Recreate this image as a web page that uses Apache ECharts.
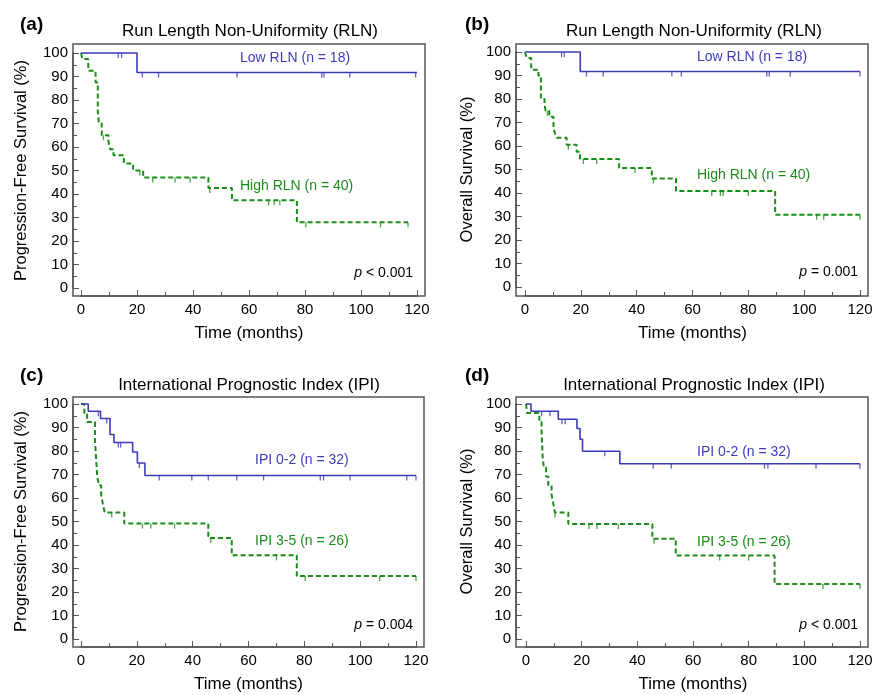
<!DOCTYPE html>
<html><head><meta charset="utf-8">
<script src="https://cdn.jsdelivr.net/npm/echarts@6/dist/echarts.min.js"></script>
<style>html,body{margin:0;padding:0;background:#fff}#c{width:875px;height:695px}</style>
</head><body><div id="c"></div>
<script>
const FONT = '"Liberation Sans", Arial, Helvetica, sans-serif';
const BLUE = '#3c3cb8';
const GREEN = '#1a8c1a';
const AXIS = '#555555';

// ---------- Panel (a): PFS by RLN ----------
const aLowTime = [0, 20, 120];
const aLowSurv = [100, 91.7, 91.7];
const aLowCensor = [13.3, 14.5, 21.9, 27.7, 55.7, 86.0, 86.8, 96.0, 119.5];
const aHighTime = [0, 0.5, 2.6, 5.2, 6.0, 6.4, 7.4, 9.8, 10.4, 11.6, 15.3, 18.6, 22.2, 45.5, 53.9, 77.1, 116.8];
const aHighSurv = [100, 97.5, 92.5, 87.5, 75.0, 70.0, 65.0, 62.5, 59.0, 56.5, 53.0, 50.0, 47.0, 42.6, 37.3, 28.0, 28.0];
const aHighCensor = [8.0, 21.0, 25.6, 33.6, 39.0, 46.0, 67.0, 69.0, 71.0, 80.3, 107.0, 116.8];

// ---------- Panel (b): OS by RLN ----------
const bLowTime = [0, 19.8, 120];
const bLowSurv = [100, 91.7, 91.7];
const bLowCensor = [13.1, 14.1, 22.0, 28.0, 52.6, 56.0, 86.6, 87.5, 95.0, 120];
const bHighTime = [0, 0.6, 2.2, 4.8, 5.7, 7.0, 7.4, 8.7, 10.2, 10.8, 11.4, 14.9, 18.5, 19.7, 33.7, 45.4, 54.1, 89.6, 120];
const bHighSurv = [100, 97.5, 92.5, 90.0, 80.0, 77.5, 75.0, 72.5, 67.5, 65.2, 63.5, 60.5, 57.6, 54.5, 50.6, 46.2, 40.9, 30.7, 30.7];
const bHighCensor = [8.0, 15.5, 20.9, 25.7, 39.4, 46.0, 66.9, 70.0, 71.0, 80.0, 104.5, 107.0, 120];

// ---------- Panel (c): PFS by IPI ----------
const cLowTime = [0, 2.6, 7.0, 10.4, 11.8, 18.5, 20.2, 22.9, 120];
const cLowSurv = [100, 96.9, 93.8, 87.0, 83.6, 79.6, 74.9, 69.6, 69.6];
const cLowCensor = [6.2, 9.2, 13.4, 14.2, 20.9, 28.0, 39.7, 45.6, 55.8, 65.4, 85.7, 86.9, 96.4, 116.7, 120];
const cHighTime = [0, 1.2, 2.2, 5.0, 5.4, 5.8, 6.4, 7.2, 7.8, 8.5, 15.5, 45.6, 54.0, 77.3, 120];
const cHighSurv = [100, 96.2, 92.3, 84.6, 76.9, 69.2, 65.4, 61.5, 57.7, 53.8, 49.1, 43.0, 35.6, 26.8, 26.8];
const cHighCensor = [11.0, 22.0, 25.0, 33.5, 46.5, 70.0, 80.3, 107.0, 120];

// ---------- Panel (d): OS by IPI ----------
const dLowTime = [0, 1.8, 11.6, 18.3, 19.4, 20.3, 33.7, 120];
const dLowSurv = [100, 96.9, 93.5, 89.6, 85.0, 79.9, 74.6, 74.6];
const dLowCensor = [5.6, 8.6, 12.9, 14.1, 28.3, 45.7, 52.2, 85.7, 86.9, 104.2, 120];
const dHighTime = [0, 0.4, 4.8, 5.6, 6.0, 6.4, 7.2, 8.0, 9.2, 9.8, 10.4, 15.2, 45.4, 53.8, 89.3, 120];
const dHighSurv = [100, 96.2, 92.3, 88.5, 76.9, 73.1, 69.2, 65.4, 61.5, 57.7, 53.8, 48.9, 42.7, 35.5, 23.4, 23.4];
const dHighCensor = [10.4, 22.6, 25.5, 33.2, 46.0, 69.6, 80.0, 106.7, 120];

// ---------- Text ----------
const panelLetters = ['(a)', '(b)', '(c)', '(d)'];
const panelTitles = ['Run Length Non-Uniformity (RLN)', 'Run Length Non-Uniformity (RLN)',
                     'International Prognostic Index (IPI)', 'International Prognostic Index (IPI)'];
const yNames = ['Progression-Free Survival (%)', 'Overall Survival (%)',
                'Progression-Free Survival (%)', 'Overall Survival (%)'];
const xName = 'Time (months)';
const lowLabels = ['Low RLN (n = 18)', 'Low RLN (n = 18)', 'IPI 0-2 (n = 32)', 'IPI 0-2 (n = 32)'];
const highLabels = ['High RLN (n = 40)', 'High RLN (n = 40)', 'IPI 3-5 (n = 26)', 'IPI 3-5 (n = 26)'];
const pTexts = ['< 0.001', '= 0.001', '= 0.004', '< 0.001'];

// ---------- Layout (pixels) ----------
const layout = [
  {left: 81, top: 53, width: 336, height: 235, fl: 73, ft: 44, fr: 425, fb: 296,
   letter: [20, 25], title: [250, 31], low: [240, 58], high: [240, 186], p: [413, 273], yGap: 43},
  {left: 525, top: 52, width: 335, height: 235, fl: 516, ft: 44, fr: 868, fb: 296,
   letter: [465, 25], title: [694, 31], low: [697, 57], high: [697, 175], p: [858, 272], yGap: 40},
  {left: 81, top: 404, width: 335, height: 235, fl: 73, ft: 397, fr: 424, fb: 647,
   letter: [20, 376], title: [249, 385], low: [255, 460], high: [255, 541], p: [413, 625], yGap: 43},
  {left: 526, top: 404, width: 334, height: 235, fl: 516, ft: 397, fr: 868, fb: 647,
   letter: [465, 376], title: [694, 385], low: [697, 452], high: [697, 542], p: [858, 625], yGap: 40}
];

const panels = [
  {lowT: aLowTime, lowS: aLowSurv, lowC: aLowCensor, highT: aHighTime, highS: aHighSurv, highC: aHighCensor},
  {lowT: bLowTime, lowS: bLowSurv, lowC: bLowCensor, highT: bHighTime, highS: bHighSurv, highC: bHighCensor},
  {lowT: cLowTime, lowS: cLowSurv, lowC: cLowCensor, highT: cHighTime, highS: cHighSurv, highC: cHighCensor},
  {lowT: dLowTime, lowS: dLowSurv, lowC: dLowCensor, highT: dHighTime, highS: dHighSurv, highC: dHighCensor}
];

function survAt(times, surv, t) {
  let v = surv[0];
  for (let i = 0; i < times.length; i++) if (times[i] <= t) v = surv[i];
  return v;
}
function zip(a, b) { return a.map((v, i) => [v, b[i]]); }

const grids = [], xAxes = [], yAxes = [], series = [], graphics = [];
const tickStyle = {color: AXIS, width: 1};

layout.forEach((L, i) => {
  const P = panels[i];
  grids.push({left: L.left, top: L.top, width: L.width, height: L.height, containLabel: false, outerBoundsMode: 'none'});
  xAxes.push({
    type: 'value', gridIndex: i, min: 0, max: 120, interval: 20,
    offset: L.fb - (L.top + L.height),
    axisLine: {show: true, onZero: false, lineStyle: {color: AXIS, width: 1.5}},
    axisTick: {show: true, inside: true, length: 6, lineStyle: tickStyle},
    minorTick: {show: true, splitNumber: 2, length: 4, lineStyle: tickStyle},
    splitLine: {show: false},
    axisLabel: {margin: 6, fontSize: 15, color: '#000', fontFamily: FONT},
    name: xName, nameLocation: 'middle', nameGap: 29,
    nameTextStyle: {fontSize: 17, color: '#000', fontFamily: FONT}
  });
  yAxes.push({
    type: 'value', gridIndex: i, min: 0, max: 100, interval: 10,
    offset: L.left - L.fl,
    axisLine: {show: true, onZero: false, lineStyle: {color: AXIS, width: 1.5}},
    axisTick: {show: true, inside: true, length: 6, lineStyle: tickStyle},
    minorTick: {show: true, splitNumber: 2, length: 4, lineStyle: tickStyle},
    splitLine: {show: false},
    axisLabel: {margin: 5, fontSize: 15, color: '#000', fontFamily: FONT},
    name: yNames[i], nameLocation: 'middle', nameGap: L.yGap,
    nameTextStyle: {fontSize: 16.5, color: '#000', fontFamily: FONT}
  });
  series.push({
    type: 'line', xAxisIndex: i, yAxisIndex: i, step: 'end', showSymbol: false, clip: false,
    data: zip(P.highT, P.highS), z: 3,
    lineStyle: {color: GREEN, width: 2, type: [5, 3]}, animation: false
  });
  series.push({
    type: 'line', xAxisIndex: i, yAxisIndex: i, step: 'end', showSymbol: false, clip: false,
    data: zip(P.lowT, P.lowS), z: 4,
    lineStyle: {color: BLUE, width: 1.6}, animation: false
  });
  series.push({
    type: 'scatter', xAxisIndex: i, yAxisIndex: i, symbol: 'rect', symbolSize: [1.3, 5], symbolOffset: [0, 2.5],
    data: P.highC.map(t => [t, survAt(P.highT, P.highS, t)]), z: 5,
    itemStyle: {color: GREEN}, animation: false, silent: true
  });
  series.push({
    type: 'scatter', xAxisIndex: i, yAxisIndex: i, symbol: 'rect', symbolSize: [1.3, 5], symbolOffset: [0, 2.5],
    data: P.lowC.map(t => [t, survAt(P.lowT, P.lowS, t)]), z: 5,
    itemStyle: {color: BLUE}, animation: false, silent: true
  });

  graphics.push({type: 'rect', shape: {x: L.fl, y: L.ft, width: L.fr - L.fl, height: L.fb - L.ft},
    style: {fill: 'none', stroke: AXIS, lineWidth: 1.5}, z: 10, silent: true});
  graphics.push({type: 'text', x: L.letter[0], y: L.letter[1],
    style: {text: panelLetters[i], font: 'bold 19px ' + FONT, fill: '#000', textAlign: 'left', textVerticalAlign: 'middle'}});
  graphics.push({type: 'text', x: L.title[0], y: L.title[1],
    style: {text: panelTitles[i], font: '17px ' + FONT, fill: '#000', textAlign: 'center', textVerticalAlign: 'middle'}});
  graphics.push({type: 'text', x: L.low[0], y: L.low[1],
    style: {text: lowLabels[i], font: '14px ' + FONT, fill: BLUE, textAlign: 'left', textVerticalAlign: 'middle'}});
  graphics.push({type: 'text', x: L.high[0], y: L.high[1],
    style: {text: highLabels[i], font: '14px ' + FONT, fill: GREEN, textAlign: 'left', textVerticalAlign: 'middle'}});
  graphics.push({type: 'text', x: L.p[0], y: L.p[1],
    style: {text: '{i|p} ' + pTexts[i], fill: '#000', textAlign: 'right', textVerticalAlign: 'middle',
      fontSize: 14, fontFamily: FONT,
      rich: {i: {fontStyle: 'italic', fontSize: 14, fontFamily: FONT, fill: '#000'}}}});
});

const chart = echarts.init(document.getElementById('c'), null, {renderer: 'canvas'});
chart.setOption({
  animation: false,
  backgroundColor: '#ffffff',
  grid: grids, xAxis: xAxes, yAxis: yAxes, series: series,
  graphic: {elements: graphics}
});
</script></body></html>
